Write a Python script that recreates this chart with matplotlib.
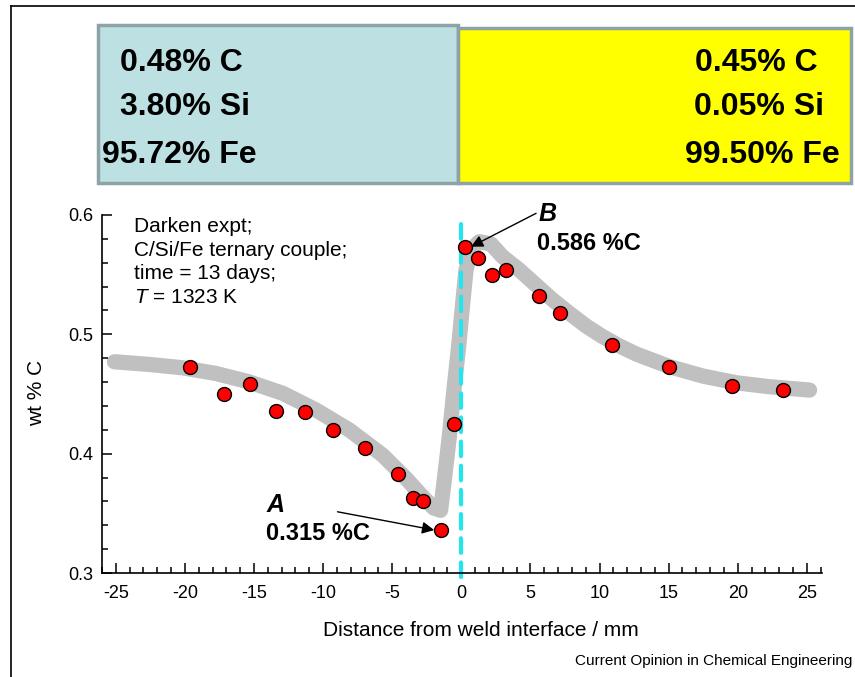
import matplotlib
matplotlib.use("Agg")
import matplotlib.pyplot as plt
from matplotlib.patches import Rectangle
from matplotlib.lines import Line2D

plt.rcParams['font.family'] = ['Liberation Sans', 'DejaVu Sans']
plt.rcParams['mathtext.fontset'] = 'custom'
plt.rcParams['mathtext.rm'] = 'Liberation Sans'
plt.rcParams['mathtext.it'] = 'Liberation Sans:italic'
plt.rcParams['axes.unicode_minus'] = False

# measured points (distance / mm, wt % C)
dist = [-19.6, -17.2, -15.3, -13.4, -11.3, -9.3, -7.0, -4.6, -3.5, -2.8, -1.5, -0.5,
        0.3, 1.2, 2.2, 3.2, 5.6, 7.15, 10.9, 15.0, 19.6, 23.3]
wtc = [0.473, 0.450, 0.458, 0.436, 0.435, 0.420, 0.405, 0.383, 0.363, 0.360, 0.336, 0.425,
       0.573, 0.564, 0.550, 0.554, 0.532, 0.518, 0.491, 0.473, 0.457, 0.453]

# hand drawn trend curve
curve_x = [-25.1, -22.6, -20.2, -17.8, -15.4, -12.9, -10.5, -8.1, -5.7, -4.0, -2.8, -2.0,
           -1.5, -1.23, -0.87, -0.51, -0.19, 0.10, 0.34, 0.70, 1.3, 2.15, 2.99, 4.20, 5.41,
           6.62, 7.83, 9.03, 10.24, 11.45, 12.66, 15.07, 17.49, 19.9, 22.3, 25.2]
curve_y = [0.477, 0.4748, 0.472, 0.4673, 0.4603, 0.4505, 0.4365, 0.4198, 0.3988, 0.3793,
           0.3639, 0.3545, 0.3525, 0.378, 0.414, 0.456, 0.490, 0.526, 0.554, 0.5707, 0.5776,
           0.5757, 0.565, 0.5539, 0.5413, 0.5288, 0.5176, 0.507, 0.498, 0.4902, 0.4835,
           0.4729, 0.4650, 0.4594, 0.4561, 0.4533]

left_comp = ['0.48% C', '3.80% Si', '95.72% Fe']
right_comp = ['0.45% C', '0.05% Si', '99.50% Fe']
info_lines = ['Darken expt;', 'C/Si/Fe ternary couple;', 'time = 13 days;', '$\\mathit{T}$ = 1323 K']

W, H = 855, 677
fig = plt.figure(figsize=(W / 100, H / 100), dpi=100)


def fx(px):
    return px / W


def fy(py):
    return 1 - py / H


# outer frame (left and top edges only)
fig.add_artist(Line2D([fx(11), fx(11)], [0, fy(6)], color='black', lw=1.2))
fig.add_artist(Line2D([fx(11), 1], [fy(6), fy(6)], color='black', lw=1.2))

# composition boxes
fig.add_artist(Rectangle((fx(98), fy(183)), fx(458) - fx(98), fy(25) - fy(183),
                         transform=fig.transFigure, facecolor='#bde0e3', edgecolor='#8da3a6', lw=2.5))
fig.add_artist(Rectangle((fx(458), fy(183)), fx(851) - fx(458), fy(28) - fy(183),
                         transform=fig.transFigure, facecolor='#ffff00', edgecolor='#8da3a6', lw=2.5))
left_x = [120, 120, 102]
right_x = [818, 824, 840]
rows_y = [63, 107, 155]
for s, x, y in zip(left_comp, left_x, rows_y):
    fig.text(fx(x), fy(y), s, fontsize=23, fontweight='bold', ha='left', va='center')
for s, x, y in zip(right_comp, right_x, rows_y):
    fig.text(fx(x), fy(y), s, fontsize=23, fontweight='bold', ha='right', va='center')

ax = fig.add_axes([fx(102), fy(573), fx(822) - fx(102), fy(215) - fy(573)])
ax.set_xlim(-26, 26.1)
ax.set_ylim(0.3, 0.6)
for side in ['top', 'right']:
    ax.spines[side].set_visible(False)
ax.spines['left'].set_linewidth(1.2)
ax.spines['bottom'].set_linewidth(1.2)

ax.plot(curve_x, curve_y, color='#c0c0c0', lw=11, solid_capstyle='round', solid_joinstyle='round', zorder=1)
ax.plot([0, 0], [0.297, 0.597], color='#22e5ee', lw=3, dashes=(3.5, 2.3), dash_capstyle='round',
        clip_on=False, zorder=2)
ax.plot(dist, wtc, 'o', color='#ff0000', markeredgecolor='black', markeredgewidth=1.0,
        markersize=10, zorder=3, clip_on=False)

ax.set_xticks(range(-25, 26, 5))
ax.set_xticks(range(-26, 27), minor=True)
ax.set_yticks([0.3, 0.4, 0.5, 0.6])
ax.set_yticklabels(['0.3', '0.4', '0.5', '0.6'])
ax.set_yticks([0.3 + 0.02 * i for i in range(16)], minor=True)
ax.tick_params(which='major', direction='in', length=7, width=1.1, labelsize=13)
ax.tick_params(which='minor', direction='in', length=4.5, width=1.1)
ax.tick_params(axis='x', which='major', pad=9)
ax.tick_params(axis='y', which='major', pad=6)

ax.set_xlabel('Distance from weld interface / mm', fontsize=15)
ax.xaxis.set_label_coords(0.526, -0.135)
ax.set_ylabel('wt % C', fontsize=15)
ax.yaxis.set_label_coords(-0.078, 0.503)

for i, s in enumerate(info_lines):
    ax.text(-23.7, 0.590 - i * 0.0196, s, fontsize=15, ha='left', va='center')

# annotations for the extremes
ax.text(5.6, 0.601, 'B', fontsize=18, fontweight='bold', style='italic', ha='left', va='center')
ax.text(5.5, 0.5757, '0.586 %C', fontsize=17, fontweight='bold', ha='left', va='center')
ax.annotate('', xy=(0.70, 0.5734), xytext=(5.41, 0.6014),
            arrowprops=dict(arrowstyle='-|>', color='black', lw=1, mutation_scale=18, shrinkA=0, shrinkB=0))
ax.text(-14.06, 0.3569, 'A', fontsize=18, fontweight='bold', style='italic', ha='left', va='center')
ax.text(-14.15, 0.3334, '0.315 %C', fontsize=17, fontweight='bold', ha='left', va='center')
ax.annotate('', xy=(-1.96, 0.336), xytext=(-8.96, 0.3513),
            arrowprops=dict(arrowstyle='-|>', color='black', lw=1, mutation_scale=18, shrinkA=0, shrinkB=0))

fig.text(fx(852), fy(661), 'Current Opinion in Chemical Engineering', fontsize=11, ha='right', va='center')

fig.savefig('out.png', dpi=100)
